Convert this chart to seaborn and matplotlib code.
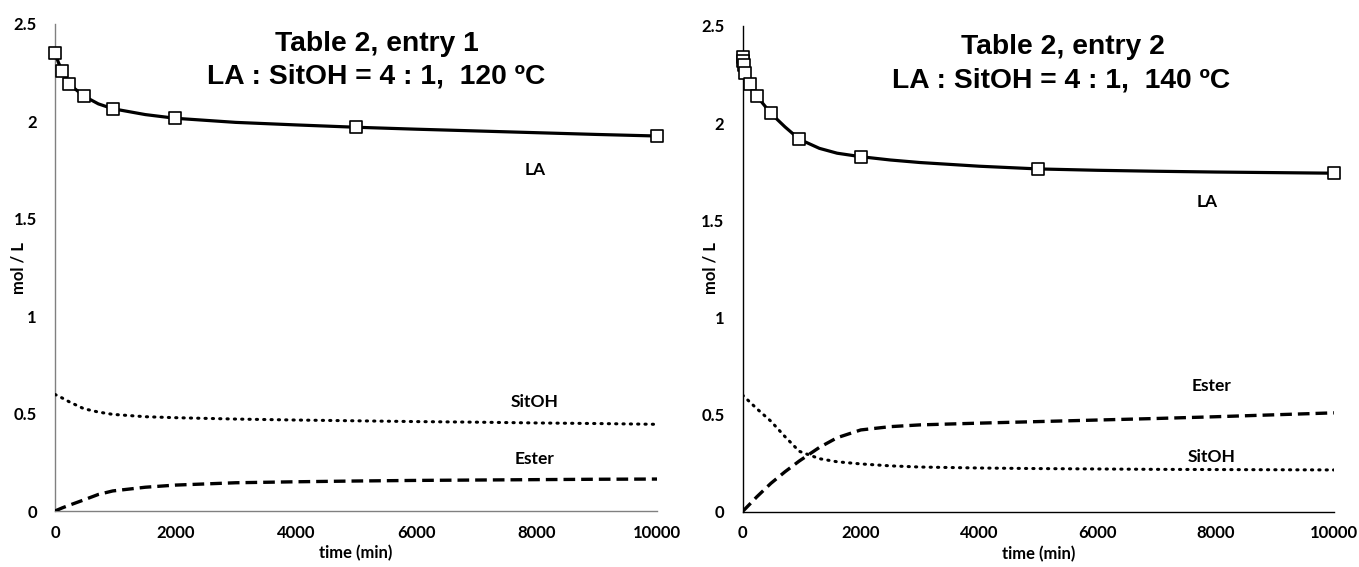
import matplotlib
matplotlib.use("Agg")
import matplotlib.pyplot as plt
import seaborn as sns

# ---------------- data ----------------
# Left panel: Table 2, entry 1 (120 ºC)
left_t_exp = [0, 120, 240, 480, 960, 2000, 5000, 10000]
left_LA_exp = [2.35, 2.26, 2.19, 2.13, 2.065, 2.016, 1.970, 1.925]

left_t_curve = [0, 60, 120, 240, 480, 720, 960, 1500, 2000, 3000, 4000,
                5000, 6000, 7000, 8000, 9000, 10000]
left_LA_curve = [2.35, 2.30, 2.26, 2.19, 2.13, 2.09, 2.065, 2.035, 2.016, 1.995,
                 1.982, 1.970, 1.960, 1.951, 1.942, 1.933, 1.925]
left_SitOH_curve = [0.598, 0.59, 0.58, 0.56, 0.525, 0.508, 0.496, 0.484, 0.479,
                    0.472, 0.467, 0.463, 0.459, 0.456, 0.452, 0.449, 0.445]
left_Ester_curve = [0.0, 0.008, 0.016, 0.03, 0.057, 0.085, 0.103, 0.122, 0.133,
                    0.145, 0.150, 0.154, 0.157, 0.159, 0.161, 0.163, 0.164]

# Right panel: Table 2, entry 2 (140 ºC)
right_t_exp = [0, 10, 20, 40, 120, 240, 480, 960, 2000, 5000, 10000]
right_LA_exp = [2.342, 2.320, 2.298, 2.260, 2.201, 2.140, 2.050, 1.917, 1.827,
                1.764, 1.742]

right_t_curve = [0, 10, 20, 40, 120, 240, 480, 720, 960, 1300, 1600, 2000, 2500,
                 3000, 4000, 5000, 6000, 7000, 8000, 9000, 10000]
right_LA_curve = [2.342, 2.32, 2.298, 2.26, 2.20, 2.14, 2.05, 1.98, 1.917, 1.87,
                  1.845, 1.827, 1.81, 1.797, 1.778, 1.764, 1.757, 1.752, 1.748,
                  1.745, 1.742]
right_SitOH_curve = [0.60, 0.597, 0.594, 0.588, 0.565, 0.53, 0.465, 0.385, 0.31,
                     0.272, 0.256, 0.245, 0.235, 0.229, 0.224, 0.221, 0.219,
                     0.217, 0.216, 0.215, 0.214]
right_Ester_curve = [0.0, 0.003, 0.006, 0.012, 0.037, 0.075, 0.145, 0.205, 0.26,
                     0.33, 0.38, 0.42, 0.437, 0.446, 0.455, 0.463, 0.471, 0.479,
                     0.488, 0.498, 0.508]

x_ticks = [0, 2000, 4000, 6000, 8000, 10000]
y_ticks = [0, 0.5, 1, 1.5, 2, 2.5]
y_ticklabels = ["0", "0.5", "1", "1.5", "2", "2.5"]

left_title = ["Table 2, entry 1", "LA : SitOH = 4 : 1,  120 ºC"]
right_title = ["Table 2, entry 2", "LA : SitOH = 4 : 1,  140 ºC"]

# ---------------- style ----------------
sns.set_theme(style="white")
plt.rcParams["font.family"] = ["Lato", "DejaVu Sans"]
plt.rcParams.update({"text.color": "black", "axes.labelcolor": "black",
                     "xtick.color": "black", "ytick.color": "black"})

W, H = 1359, 567
fig = plt.figure(figsize=(W / 100, H / 100), dpi=100)

def px_axes(x0, x1, ytop, ybot):
    return fig.add_axes([x0 / W, (H - ybot) / H, (x1 - x0) / W, (ybot - ytop) / H])

ax_l = px_axes(55, 657, 24, 511)
ax_r = px_axes(742.5, 1334, 26, 511.5)

DOT = (0, (0.4, 2.0))
DASH = (0, (3.5, 1.8))

def draw(ax, t_curve, la, sit, est, t_exp, la_exp, spine_color, labels):
    sns.lineplot(x=t_curve, y=la, ax=ax, color="black", linewidth=2.3,
                 estimator=None, sort=False, zorder=3)
    sns.lineplot(x=t_curve, y=sit, ax=ax, color="black", linewidth=2.2,
                 linestyle=DOT, dash_capstyle="round", estimator=None,
                 sort=False, zorder=3)
    sns.lineplot(x=t_curve, y=est, ax=ax, color="black", linewidth=2.4,
                 linestyle=DASH, estimator=None, sort=False, zorder=3)
    sns.scatterplot(x=t_exp, y=la_exp, ax=ax, marker="s", s=75,
                    facecolor="white", edgecolor="black", linewidth=1.2,
                    zorder=5, clip_on=False)
    ax.set_xlim(0, 10000)
    ax.set_ylim(0, 2.5)
    ax.set_xticks(x_ticks)
    ax.set_yticks(y_ticks)
    ax.set_yticklabels(y_ticklabels)
    ax.tick_params(axis="both", length=0, labelsize=12, colors="black")
    ax.tick_params(axis="y", pad=13)
    ax.tick_params(axis="x", pad=10)
    for lab in ax.get_xticklabels() + ax.get_yticklabels():
        lab.set_fontweight("bold")
    for s in ["top", "right"]:
        ax.spines[s].set_visible(False)
    for s in ["left", "bottom"]:
        ax.spines[s].set_color(spine_color)
        ax.spines[s].set_linewidth(1.0)
    ax.set_xlabel("time (min)", fontsize=12, fontweight="bold", labelpad=3)
    ax.set_ylabel("")
    ax.set_facecolor("white")
    for (txt, tx, ty) in labels:
        ax.text(tx, ty, txt, fontsize=12.5, fontweight="bold", ha="center",
                va="center")

draw(ax_l, left_t_curve, left_LA_curve, left_SitOH_curve, left_Ester_curve,
     left_t_exp, left_LA_exp, "#808080",
     [("LA", 7970, 1.75), ("SitOH", 7970, 0.561), ("Ester", 7970, 0.267)])
draw(ax_r, right_t_curve, right_LA_curve, right_SitOH_curve, right_Ester_curve,
     right_t_exp, right_LA_exp, "black",
     [("LA", 7860, 1.595), ("Ester", 7930, 0.646), ("SitOH", 7930, 0.282)])

# y-axis labels
fig.text(19 / W, 1 - 268 / H, "mol / L", rotation=90, fontsize=12,
         fontweight="bold", ha="center", va="center")
fig.text(711 / W, 1 - 268 / H, "mol / L", rotation=90, fontsize=12,
         fontweight="bold", ha="center", va="center")

# titles
tfont = dict(fontsize=20.3, fontweight="bold", ha="center", va="center",
             family=["Liberation Sans", "DejaVu Sans"], color="black")
fig.text(377 / W, 1 - 44 / H, left_title[0], **tfont)
fig.text(376 / W, 1 - 77 / H, left_title[1], **tfont)
fig.text(1063 / W, 1 - 47 / H, right_title[0], **tfont)
fig.text(1061 / W, 1 - 81 / H, right_title[1], **tfont)

fig.savefig("out.png", dpi=100, facecolor="white")
